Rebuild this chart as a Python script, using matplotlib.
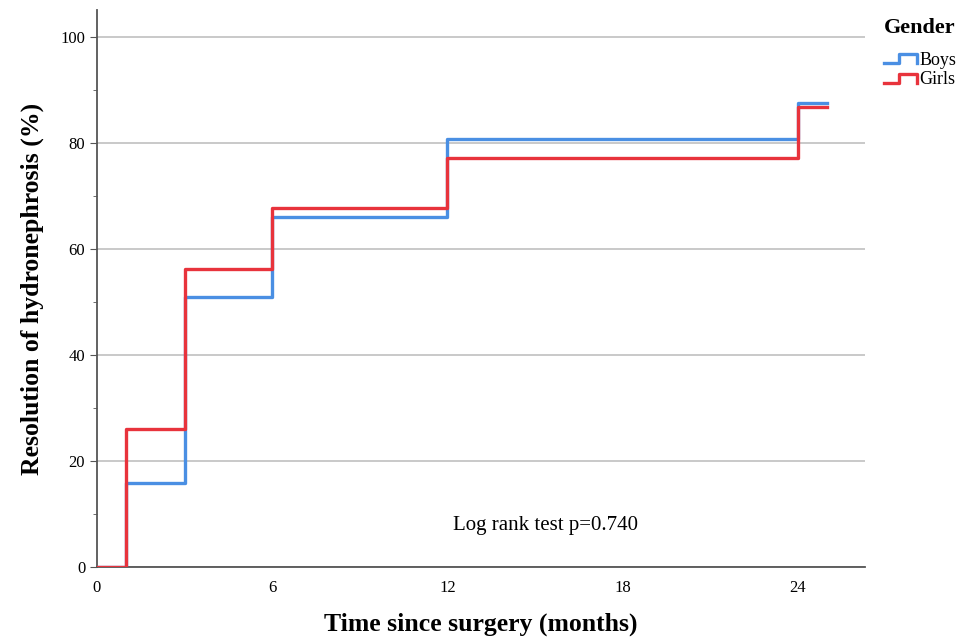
import matplotlib
matplotlib.use("Agg")
import matplotlib.pyplot as plt
from matplotlib.lines import Line2D
from matplotlib.legend_handler import HandlerBase

# step curves (time in months, cumulative resolution %)
boys_t = [0, 1, 3, 6, 12, 24, 25]
boys_y = [0, 15.8, 51.0, 66.0, 80.7, 87.5, 87.5]
girls_t = [0, 1, 3, 6, 12, 24, 25]
girls_y = [0, 26.0, 56.3, 67.7, 77.2, 86.7, 86.7]

x_ticks = [0, 6, 12, 18, 24]
y_ticks = [0, 20, 40, 60, 80, 100]

BLUE = "#4a8fe3"
RED = "#e8333c"

plt.rcParams['font.family'] = ['Liberation Serif', 'DejaVu Serif']


class StepHandler(HandlerBase):
    # draws a little step shape as the legend key
    def create_artists(self, legend, orig_handle, xdescent, ydescent,
                       width, height, fontsize, trans):
        x0, x1 = -xdescent, -xdescent + width
        y0, y1 = -ydescent + 0.15 * height, -ydescent + 0.85 * height
        xm = x0 + 0.45 * width
        xs = [x0, xm, xm, x1, x1]
        ys = [y0, y0, y1, y1, y0]
        line = Line2D(xs, ys, color=orig_handle.get_color(),
                      linewidth=orig_handle.get_linewidth(), transform=trans)
        return [line]


fig = plt.figure(figsize=(9.6, 6.38), dpi=100)
ax = fig.add_axes([0.101, 0.111, 0.80, 0.873])

ax.step(boys_t, boys_y, where='post', color=BLUE, linewidth=2.4, zorder=3)
ax.step(girls_t, girls_y, where='post', color=RED, linewidth=2.4, zorder=4)

ax.set_xlim(0, 26.3)
ax.set_ylim(0, 105)
ax.set_xticks(x_ticks)
ax.set_yticks(y_ticks)
ax.set_yticks([10, 30, 50, 70, 90], minor=True)
ax.yaxis.grid(True, color='#c0c0c0', linewidth=1.2, zorder=1)
ax.set_axisbelow(True)

for s in ['top', 'right']:
    ax.spines[s].set_visible(False)
for s in ['left', 'bottom']:
    ax.spines[s].set_color('#555555')
    ax.spines[s].set_linewidth(1.3)

ax.tick_params(axis='x', length=0, labelsize=12, pad=9)
ax.tick_params(axis='y', which='major', length=5, labelsize=12, color='#555555')
ax.tick_params(axis='y', which='minor', length=3, color='#555555')

ax.set_xlabel('Time since surgery (months)', fontsize=18.5, fontweight='bold', labelpad=12)
ax.set_ylabel('Resolution of hydronephrosis (%)', fontsize=18.5, fontweight='bold', labelpad=12)

ax.text(15.36, 7.9, 'Log rank test p=0.740', fontsize=15, ha='center', va='center')

h_boys = Line2D([], [], color=BLUE, linewidth=2.4)
h_girls = Line2D([], [], color=RED, linewidth=2.4)
leg = fig.legend([h_boys, h_girls], ['Boys', 'Girls'],
                 handler_map={Line2D: StepHandler()},
                 loc='upper left', bbox_to_anchor=(0.921, 0.972),
                 frameon=False, fontsize=13, title='Gender',
                 title_fontproperties={'weight': 'bold', 'size': 16},
                 handlelength=1.8, handletextpad=0.15, labelspacing=0.15,
                 borderaxespad=0, borderpad=0)
leg._legend_box.align = 'left'
leg._legend_box.sep = 10

fig.savefig('out.png', dpi=100)
